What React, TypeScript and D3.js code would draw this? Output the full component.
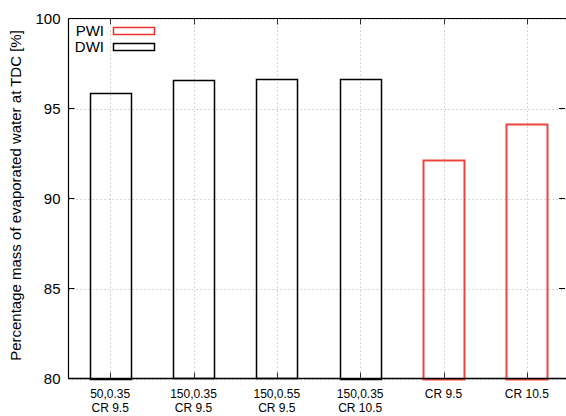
import React from "react";
import * as d3 from "d3";

const categories = [
  ["50,0.35", "CR 9.5"],
  ["150,0.35", "CR 9.5"],
  ["150,0.55", "CR 9.5"],
  ["150,0.35", "CR 10.5"],
  ["CR 9.5"],
  ["CR 10.5"],
];
const values = [95.88, 96.56, 96.62, 96.66, 92.15, 94.15];
const series = ["DWI", "DWI", "DWI", "DWI", "PWI", "PWI"];
const yTicks = [80, 85, 90, 95, 100];
const legendItems = ["PWI", "DWI"];
const colors: Record<string, string> = { PWI: "#e8322a", DWI: "#000000" };

export default function App() {
  const W = 566, H = 416;
  const left = 68.5, right = 568.5, top = 18.5, bottom = 378.5;
  const x = d3.scaleLinear().domain([-0.5, categories.length - 0.5]).range([left, right]);
  const y = d3.scaleLinear().domain([80, 100]).range([bottom, top]);
  const barW = 41;
  const font = "Liberation Sans, Arial, sans-serif";
  return (
    <svg width={W} height={H} style={{ position: "absolute", left: 0, top: 0 }} fontFamily={font}>
      <rect x={0} y={0} width={W} height={H} fill="#fff" />
      {yTicks.map((t) => (
        <line key={"gy" + t} x1={left} x2={right} y1={Math.round(y(t)) + 0.5} y2={Math.round(y(t)) + 0.5}
          stroke="#bbb" strokeWidth={0.8} strokeDasharray="1.5,2.5" />
      ))}
      {categories.map((_, i) => (
        <line key={"gx" + i} x1={Math.round(x(i)) + 0.5} x2={Math.round(x(i)) + 0.5} y1={top} y2={bottom}
          stroke="#bbb" strokeWidth={0.8} strokeDasharray="1.5,2.5" />
      ))}
      {values.map((v, i) => (
        <rect key={"b" + i} x={Math.round(x(i) - barW / 2) + 0.5} y={Math.round(y(v)) + 0.5}
          width={barW} height={Math.round(bottom - y(v))} fill="none"
          stroke={colors[series[i]]} strokeWidth={series[i] === "PWI" ? 2 : 1.5} strokeOpacity={series[i] === "PWI" ? 0.9 : 1} />
      ))}
      <line x1={left} x2={right} y1={top} y2={top} stroke="#000" strokeWidth={1.2} />
      <line x1={left} x2={right} y1={bottom} y2={bottom} stroke="#000" strokeWidth={1.5} />
      <line x1={left} x2={left} y1={top} y2={bottom} stroke="#000" strokeWidth={1.2} />
      {yTicks.map((t) => (
        <g key={"ty" + t}>
          <line x1={left} x2={left + 6} y1={y(t)} y2={y(t)} stroke="#000" />
          <line x1={565} x2={559} y1={y(t)} y2={y(t)} stroke="#000" />
          <text x={left - 8} y={y(t)} dy="0.35em" textAnchor="end" fontSize={15}>{t}</text>
        </g>
      ))}
      {categories.map((lines, i) => (
        <g key={"tx" + i}>
          <line x1={Math.round(x(i)) + 0.5} x2={Math.round(x(i)) + 0.5} y1={bottom} y2={bottom - 6} stroke="#000" strokeWidth={0.8} />
          <line x1={Math.round(x(i)) + 0.5} x2={Math.round(x(i)) + 0.5} y1={top} y2={top + 6} stroke="#000" strokeWidth={0.8} />
          {lines.map((l, j) => (
            <text key={j} x={x(i)} y={398 + j * 14} textAnchor="middle" fontSize={12}>{l}</text>
          ))}
        </g>
      ))}
      <text transform={`translate(21,${(top + bottom) / 2 - 3}) rotate(-90)`} textAnchor="middle" fontSize={15}>
        Percentage mass of evaporated water at TDC [%]
      </text>
      {legendItems.map((s, i) => (
        <g key={"lg" + s}>
          <text x={104} y={31 + i * 16} textAnchor="end" fontSize={15} dy="0.35em">{s}</text>
          <rect x={113.5} y={27.5 + i * 16} width={41} height={7} fill="none" stroke={colors[s]} strokeWidth={1.5} />
        </g>
      ))}
    </svg>
  );
}
